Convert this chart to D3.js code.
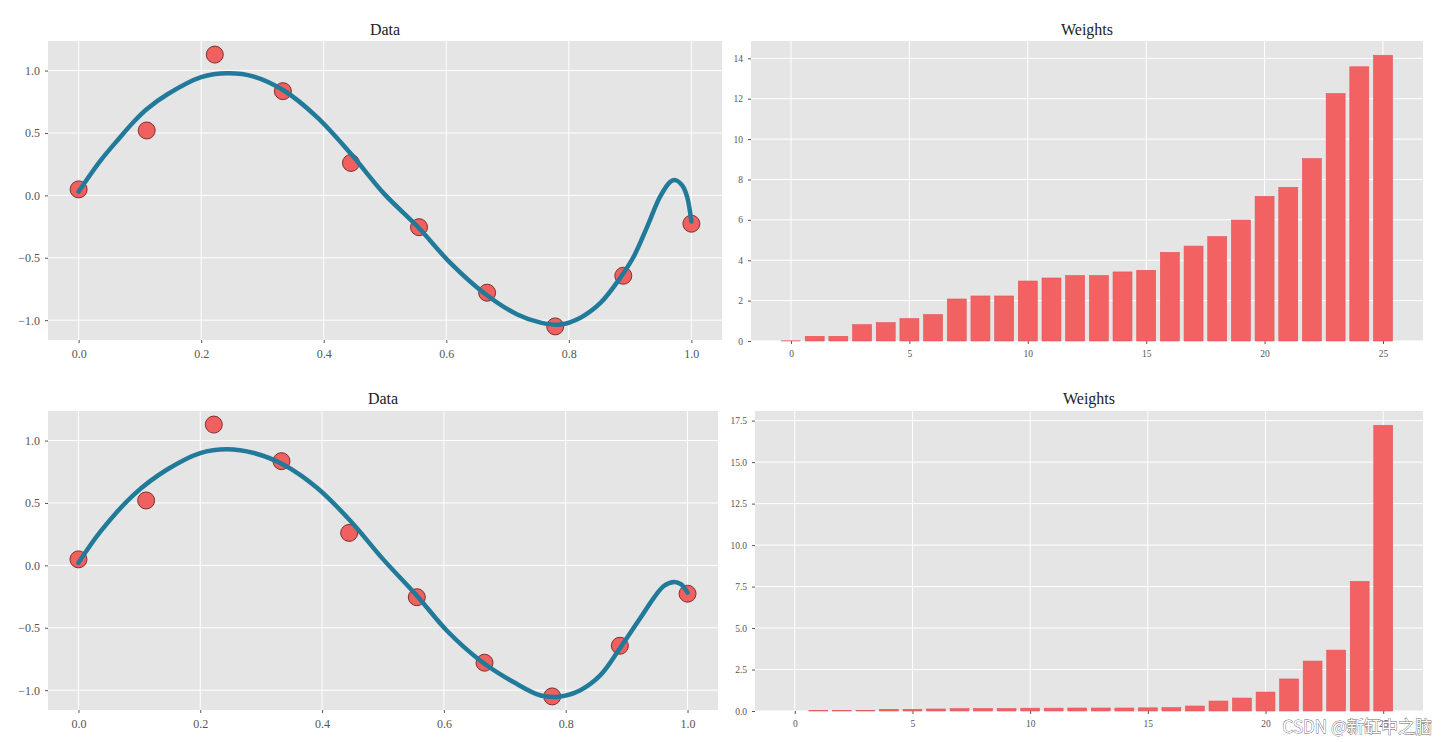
<!DOCTYPE html>
<html>
<head>
<meta charset="utf-8">
<script src="https://cdn.jsdelivr.net/npm/d3@7"></script>
<style>
  body { margin: 0; background: #fff; }
  svg { display: block; }
</style>
</head>
<body>
<script>
'use strict';

// sample points (same in both rows)
const sampleX = [0, 1/9, 2/9, 3/9, 4/9, 5/9, 6/9, 7/9, 8/9, 1];
const sampleY = [0.048, 0.52, 1.128, 0.835, 0.26, -0.255, -0.78, -1.05, -0.644, -0.227];

// fitted curve, top row
const fitTopX = [0, 0.036, 0.065, 0.09, 0.111, 0.145, 0.2, 0.243, 0.286, 0.335, 0.389, 0.444, 0.498, 0.553, 0.607, 0.661, 0.716, 0.754, 0.786, 0.819, 0.852, 0.884, 0.906, 0.928, 0.949, 0.966, 0.974, 0.985, 0.993, 1.0];
const fitTopY = [0.03, 0.28, 0.45, 0.59, 0.69, 0.81, 0.947, 0.978, 0.952, 0.84, 0.627, 0.335, 0.016, -0.25, -0.543, -0.78, -0.955, -1.02, -1.035, -0.98, -0.86, -0.66, -0.49, -0.25, -0.01, 0.11, 0.122, 0.08, -0.01, -0.21];

// fitted curve, bottom row
const fitBotX = [0, 0.036, 0.091, 0.145, 0.2, 0.244, 0.288, 0.337, 0.392, 0.447, 0.5, 0.556, 0.605, 0.66, 0.715, 0.759, 0.791, 0.824, 0.857, 0.89, 0.923, 0.945, 0.961, 0.978, 0.989, 1.0];
const fitBotY = [0.02, 0.27, 0.567, 0.766, 0.9, 0.93, 0.9, 0.806, 0.62, 0.354, 0.05, -0.245, -0.524, -0.764, -0.937, -1.043, -1.05, -1.0, -0.88, -0.657, -0.418, -0.258, -0.165, -0.133, -0.15, -0.218];

// weights (bar heights), index 0..25
const weightIdx = d3.range(26);
const weightsTop = [0.01, 0.23, 0.23, 0.81, 0.91, 1.11, 1.31, 2.08, 2.23, 2.23, 2.97, 3.12, 3.24, 3.24, 3.42, 3.5, 4.39, 4.7, 5.17, 5.99, 7.16, 7.61, 9.03, 12.25, 13.58, 14.15];
const weightsBot = [0.0, 0.03, 0.03, 0.04, 0.1, 0.1, 0.12, 0.14, 0.15, 0.15, 0.17, 0.17, 0.18, 0.18, 0.18, 0.19, 0.2, 0.3, 0.6, 0.78, 1.14, 1.93, 3.01, 3.67, 7.81, 17.22];

const lineTicks = [0, 0.2, 0.4, 0.6, 0.8, 1.0];
const lineYTicks = [-1.0, -0.5, 0.0, 0.5, 1.0];
const topBarYTicks = [0, 2, 4, 6, 8, 10, 12, 14];
const botBarYTicks = [0, 2.5, 5, 7.5, 10, 12.5, 15, 17.5];
const barXTicks = [0, 5, 10, 15, 20, 25];

const serif = '"Liberation Serif", "DejaVu Serif", serif';
const tickColor = '#555';

let svg = d3.select('body').append('svg')
  .attr('width', 1446)
  .attr('height', 742);

// draw gray panel, grid, axes and title
function drawFrame(box, xScale, yScale, xTicks, yTicks, xFmt, yFmt, fontSize, title, titleY) {
  let g = svg.append('g');
  g.append('rect')
    .attr('x', box.x0).attr('y', box.y0)
    .attr('width', box.x1 - box.x0).attr('height', box.y1 - box.y0)
    .attr('fill', '#e5e5e5');

  // grid
  g.selectAll('.vgrid').data(xTicks).enter().append('line')
    .attr('x1', d => xScale(d)).attr('x2', d => xScale(d))
    .attr('y1', box.y0).attr('y2', box.y1)
    .attr('stroke', '#fff').attr('stroke-width', 1);
  g.selectAll('.hgrid').data(yTicks).enter().append('line')
    .attr('y1', d => yScale(d)).attr('y2', d => yScale(d))
    .attr('x1', box.x0).attr('x2', box.x1)
    .attr('stroke', '#fff').attr('stroke-width', 1);

  let xAxis = d3.axisBottom(xScale).tickValues(xTicks).tickFormat(xFmt).tickSize(3).tickPadding(6);
  let ax = svg.append('g').attr('transform', `translate(0, ${box.y1})`).call(xAxis);
  let yAxis = d3.axisLeft(yScale).tickValues(yTicks).tickFormat(yFmt).tickSize(3).tickPadding(5);
  let ay = svg.append('g').attr('transform', `translate(${box.x0}, 0)`).call(yAxis);
  [ax, ay].forEach(a => {
    a.select('.domain').remove();
    a.selectAll('line').attr('stroke', tickColor);
    a.selectAll('text').attr('fill', tickColor)
      .style('font-family', serif).style('font-size', fontSize + 'px');
  });

  svg.append('text')
    .attr('x', (box.x0 + box.x1) / 2)
    .attr('y', titleY)
    .attr('text-anchor', 'middle')
    .style('font-family', serif)
    .style('font-size', '16px')
    .attr('fill', '#222')
    .text(title);
}

function minusFmt(f) {
  return d => f(d).replace('-', '\u2212');
}

function drawDataPanel(box, fitX, fitY, titleY) {
  let allY = sampleY.concat(fitY);
  let yMin = d3.min(allY), yMax = d3.max(allY);
  let pad = (yMax - yMin) * 0.05;

  let xScale = d3.scaleLinear().domain([-0.05, 1.05]).range([box.x0, box.x1]);
  let yScale = d3.scaleLinear().domain([yMin - pad, yMax + pad]).range([box.y1, box.y0]);

  drawFrame(box, xScale, yScale, lineTicks, lineYTicks,
    d3.format('.1f'), minusFmt(d3.format('.1f')), 12, 'Data', titleY);

  let pts = sampleX.map((x, i) => ({ x: x, y: sampleY[i] }));
  svg.append('g').selectAll('circle')
    .data(pts).enter().append('circle')
    .attr('cx', d => xScale(d.x))
    .attr('cy', d => yScale(d.y))
    .attr('r', 8.5)
    .attr('fill', '#f0605e')
    .attr('stroke', '#7d2f2f')
    .attr('stroke-width', 1);

  let fit = fitX.map((x, i) => ({ x: x, y: fitY[i] }));
  let line = d3.line()
    .x(d => xScale(d.x))
    .y(d => yScale(d.y))
    .curve(d3.curveCatmullRom.alpha(0.5));
  svg.append('path')
    .datum(fit)
    .attr('fill', 'none')
    .attr('stroke', '#217a9a')
    .attr('stroke-width', 4.5)
    .attr('stroke-linejoin', 'round')
    .attr('stroke-linecap', 'round')
    .attr('d', line);
}

function drawWeightPanel(box, weights, yTicks, yFmt, titleY) {
  let n = weights.length;
  let span = n - 1 + 0.8;
  let xScale = d3.scaleLinear()
    .domain([-0.4 - span * 0.05, n - 1 + 0.4 + span * 0.05])
    .range([box.x0, box.x1]);
  let yScale = d3.scaleLinear().domain([0, d3.max(weights) * 1.05]).range([box.y1, box.y0]);

  drawFrame(box, xScale, yScale, barXTicks, yTicks, d3.format('d'), yFmt, 9.5, 'Weights', titleY);

  let bw = xScale(0.8) - xScale(0);
  svg.append('g').selectAll('rect')
    .data(weightIdx).enter().append('rect')
    .attr('x', i => xScale(i - 0.4))
    .attr('y', i => yScale(weights[i]))
    .attr('width', bw)
    .attr('height', i => yScale(0) - yScale(weights[i]))
    .attr('fill', '#f26262')
    .attr('stroke', '#e35454')
    .attr('stroke-width', 0.6);
}

drawDataPanel({ x0: 48, x1: 722, y0: 41, y1: 340 }, fitTopX, fitTopY, 35);
drawWeightPanel({ x0: 751, x1: 1423, y0: 41, y1: 341 }, weightsTop, topBarYTicks, d3.format('d'), 35);
drawDataPanel({ x0: 48, x1: 718, y0: 411, y1: 710 }, fitBotX, fitBotY, 404);
drawWeightPanel({ x0: 755, x1: 1423, y0: 411, y1: 711 }, weightsBot, botBarYTicks, d3.format('.1f'), 404);

// watermark, placed as in the reference (it sits over the last tick labels there too)
svg.append('text')
  .attr('x', 1432)
  .attr('y', 733)
  .attr('text-anchor', 'end')
  .style('font-family', '"Noto Sans CJK SC", "Noto Sans", sans-serif')
  .style('font-size', '17px')
  .attr('fill', '#fff')
  .attr('stroke', '#666')
  .attr('stroke-width', 0.8)
  .style('paint-order', 'stroke')
  .text('CSDN @新缸中之脑');
</script>
</body>
</html>
